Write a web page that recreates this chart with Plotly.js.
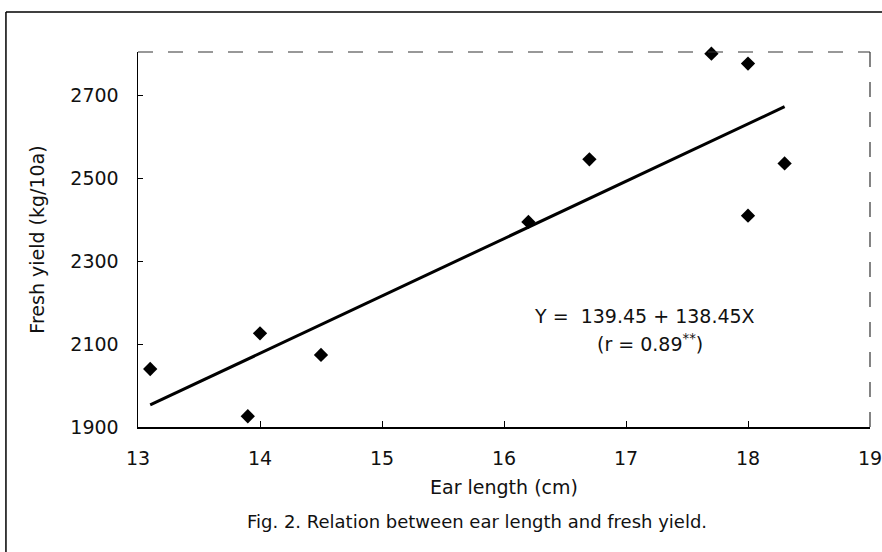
<!DOCTYPE html>
<html>
<head>
<meta charset="utf-8">
<script src="https://cdn.plot.ly/plotly-3.0.1.min.js"></script>
<style>
  html, body { margin: 0; padding: 0; background: #fff; }
  #chart { width: 882px; height: 552px; }
</style>
</head>
<body>
<div id="chart"></div>
<script>
// Observed data (ear length in cm, fresh yield in kg/10a)
const earLength = [13.1, 13.9, 14.0, 14.5, 16.2, 16.7, 17.7, 18.0, 18.0, 18.3];
const freshYield = [2040, 1926, 2126, 2074, 2395, 2546, 2801, 2777, 2410, 2536];

// Regression line Y = 139.45 + 138.45X, drawn between these x values
const fitX = [13.1, 18.3];
const intercept = 139.45;
const slope = 138.45;
const fitY = fitX.map(x => intercept + slope * x);

const xTicks = [13, 14, 15, 16, 17, 18, 19];
const yTicks = [1900, 2100, 2300, 2500, 2700];

const FONT = 'DejaVu Sans, Arial, sans-serif';

const traces = [
  {
    x: fitX, y: fitY, type: 'scatter', mode: 'lines',
    line: { color: '#000', width: 3 }, hoverinfo: 'skip'
  },
  {
    x: earLength, y: freshYield, type: 'scatter', mode: 'markers',
    marker: { symbol: 'diamond', size: 11, color: '#000' },
    cliponaxis: false
  }
];

const layout = {
  width: 882, height: 552,
  margin: { l: 138, r: 12, t: 52, b: 125 },
  paper_bgcolor: '#fff', plot_bgcolor: '#fff',
  showlegend: false,
  font: { family: FONT, size: 19, color: '#111' },
  xaxis: {
    range: [13, 19], tickvals: xTicks, ticktext: xTicks.map(String),
    showgrid: false, zeroline: false,
    showline: true, linecolor: '#000', linewidth: 1.5,
    ticks: 'inside', ticklen: 6, tickcolor: '#000', tickwidth: 1,
    ticklabelstandoff: 14, ticklabeloverflow: 'allow',
    tickfont: { family: FONT, size: 19, color: '#111' },
    title: { text: 'Ear length (cm)', font: { family: FONT, size: 19, color: '#111' }, standoff: 12 }
  },
  yaxis: {
    range: [1900, 2805], tickvals: yTicks, ticktext: yTicks.map(String),
    showgrid: false, zeroline: false,
    showline: true, linecolor: '#000', linewidth: 1.5,
    ticks: 'inside', ticklen: 5, tickcolor: '#000', tickwidth: 1,
    ticklabelstandoff: 14,
    tickfont: { family: FONT, size: 19, color: '#111' },
    title: { text: 'Fresh yield (kg/10a)', font: { family: FONT, size: 19, color: '#111' }, standoff: 20 }
  },
  shapes: [
    // dashed top and right border of plot area
    { type: 'line', xref: 'paper', yref: 'paper', x0: 0, x1: 1, y0: 1, y1: 1,
      line: { color: '#333', width: 1.2, dash: 'longdash' } },
    { type: 'line', xref: 'paper', yref: 'paper', x0: 1, x1: 1, y0: 0, y1: 1,
      line: { color: '#333', width: 1.2, dash: 'longdash' } },
    // outer figure frame
    { type: 'line', xref: 'paper', yref: 'paper', x0: -0.1804, x1: 1.1, y0: 1.1067, y1: 1.1067,
      line: { color: '#000', width: 1.5 } },
    { type: 'line', xref: 'paper', yref: 'paper', x0: -0.1804, x1: -0.1804, y0: 1.1067, y1: -0.5,
      line: { color: '#000', width: 1.5 } }
  ],
  annotations: [
    { xref: 'x', yref: 'y', x: 17.15, y: 2167, text: 'Y =  139.45 + 138.45X',
      showarrow: false, font: { family: FONT, size: 19, color: '#111' } },
    { xref: 'x', yref: 'y', x: 17.2, y: 2102, text: '(r = 0.89<sup>**</sup>)',
      showarrow: false, font: { family: FONT, size: 19, color: '#111' } },
    { xref: 'paper', yref: 'paper', x: 0.4633, y: -0.252, xanchor: 'center', yanchor: 'middle',
      text: 'Fig. 2. Relation between ear length and fresh yield.',
      showarrow: false, font: { family: FONT, size: 18, color: '#111' } }
  ]
};

Plotly.newPlot('chart', traces, layout, { displayModeBar: false, staticPlot: true });
</script>
</body>
</html>
